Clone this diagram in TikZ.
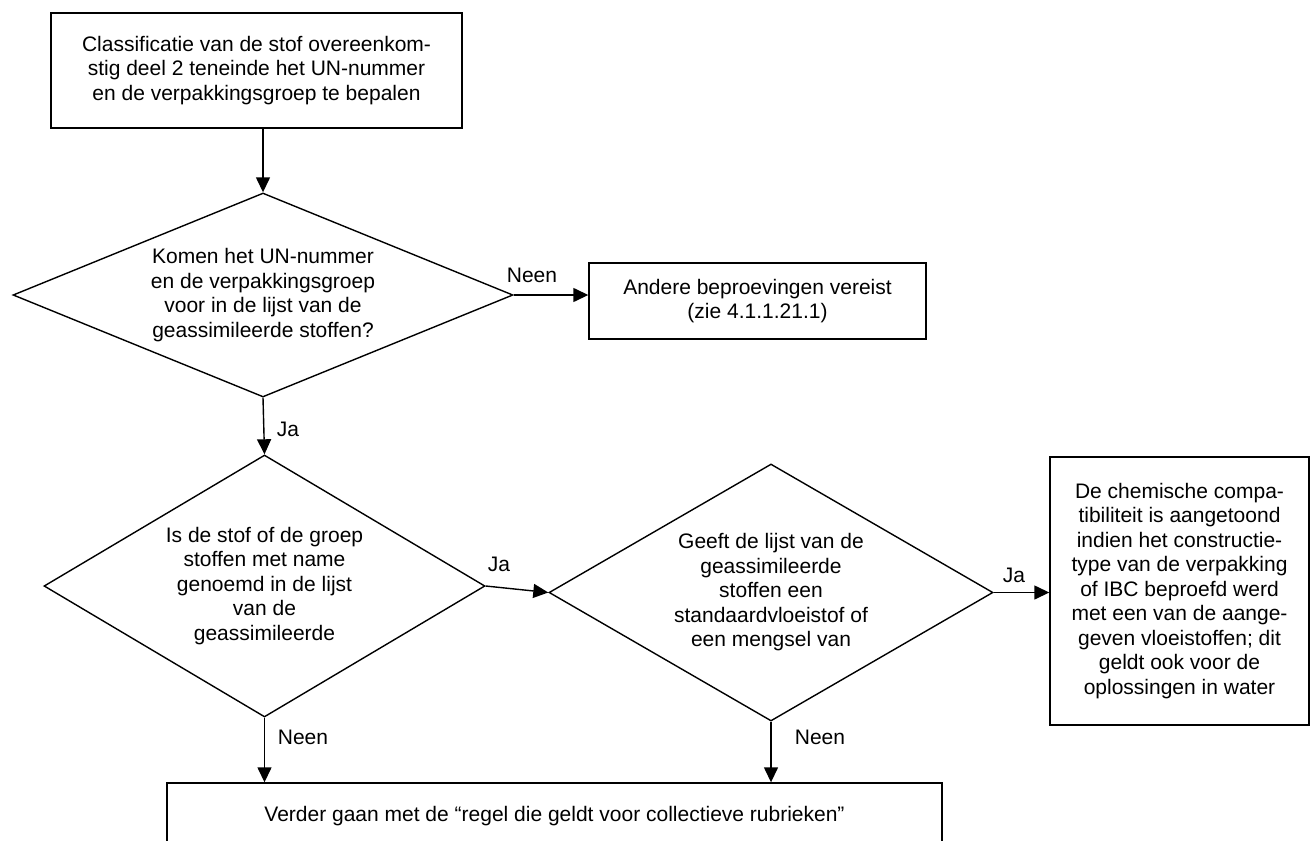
\documentclass[tikz,border=0pt]{standalone}
\usepackage{fontspec}
\setmainfont{Liberation Sans}
\usetikzlibrary{shapes.geometric,arrows.meta}

\begin{document}
\begin{tikzpicture}[x=0.5pt,y=-0.5pt,line width=0.7pt,
  font=\fontsize{10.5}{12.25}\selectfont,
  stap/.style={draw, rectangle, align=center, inner sep=0pt},
  keuze/.style={draw, diamond, align=center, inner sep=0pt},
  pijl/.style={-{Triangle[length=7.5pt,width=7pt]}}]
\clip (0,0) rectangle (1310,840);
\node[stap, minimum width=205.5pt, minimum height=57.5pt] (classif) at (256.5,70.5){Classificatie van de stof overeenkom-\\stig deel 2 teneinde het UN-nummer\\en de verpakkingsgroep te bepalen};
\node[keuze, aspect=2.45, minimum width=250pt, minimum height=102pt] (lijst) at (263,295){Komen het UN-nummer\\en de verpakkingsgroep\\voor in de lijst van de\\geassimileerde stoffen?};
\node[stap, minimum width=168.5pt, minimum height=38pt] (andere) at (757.5,301){Andere beproevingen vereist\\(zie 4.1.1.21.1)};
\draw[pijl](lijst.east) -- (lijst.east -| andere.west);
\draw[pijl](lijst.north |- classif.south) -- (lijst.north);
\node[keuze, aspect=1.7, minimum width=220.5pt, minimum height=131pt] (name) at (264.5,586){Is de stof of de groep\\stoffen met name\\genoemd in de lijst\\van de\\geassimileerde};
\draw[pijl](lijst.south) -- (name.north);
\node[keuze, aspect=1.7, minimum width=222pt, minimum height=128.5pt] (standaard) at (771,592.5){Geeft de lijst van de\\geassimileerde\\stoffen een\\standaardvloeistof of\\een mengsel van};
\draw[pijl](name.east) -- (standaard.west);
\node[stap, minimum width=129.5pt, minimum height=134pt] (compat) at (1179.5,591){De chemische compa-\\tibiliteit is aangetoond\\indien het constructie-\\type van de verpakking\\of IBC beproefd werd\\met een van de aange-\\geven vloeistoffen; dit\\geldt ook voor de\\oplossingen in water};
\draw[pijl](standaard.east) -- (standaard.east -| compat.west);
\node[stap, minimum width=387.5pt, minimum height=33.5pt] (verder) at (554.5,816.5){Verder gaan met de “regel die geldt voor collectieve rubrieken”};
\draw[pijl](name.south) -- (name.south |- verder.north);
\draw[pijl](standaard.south) -- (standaard.south |- verder.north);
% labels
\node (neen1) at (532,275){Neen};
\node (ja1) at (288,429){Ja};
\node (ja2) at (499,564){Ja};
\node (ja3) at (1014,575){Ja};
\node (neen2) at (303,737){Neen};
\node (neen3) at (820,737){Neen};
\end{tikzpicture}
\end{document}
